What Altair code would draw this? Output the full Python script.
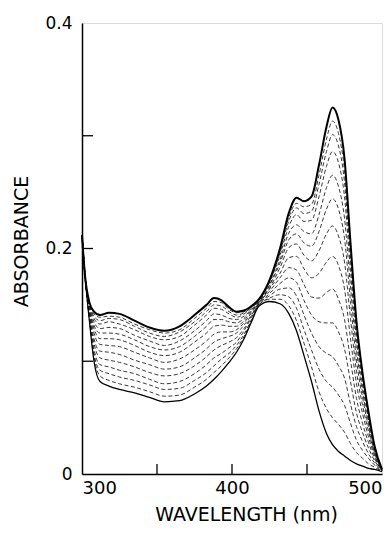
import altair as alt
import pandas as pd

wavelength = [300, 302, 305, 308, 312, 318, 325, 335, 345, 355, 365, 375, 383, 388,
              393, 398, 403, 408, 413, 418, 425, 432, 438, 443, 448, 453, 458, 463,
              467, 471, 475, 479, 483, 487, 491, 495, 500]

# bottom (initial) spectrum, solid
spec_00 = [.212,.176,.135,.100,.082,.078,.075,.072,.068,.064,.065,.071,.078,.084,.091,.099,.108,.120,.135,.149,.153,.151,.142,.127,.105,.082,.056,.036,.026,.020,.016,.012,.009,.007,.005,.004,.002]
# intermediate spectra, dashed
spec_01 = [.212,.176,.136,.104,.087,.083,.080,.077,.073,.069,.070,.077,.084,.090,.096,.103,.111,.122,.136,.150,.155,.155,.149,.136,.116,.095,.073,.058,.050,.044,.037,.027,.019,.014,.009,.006,.002]
spec_02 = [.212,.176,.138,.107,.092,.089,.086,.083,.079,.075,.076,.083,.090,.096,.102,.107,.114,.124,.137,.150,.156,.159,.157,.147,.128,.110,.093,.082,.077,.070,.061,.045,.030,.021,.014,.008,.002]
spec_03 = [.212,.176,.139,.111,.097,.095,.092,.089,.084,.080,.082,.089,.097,.103,.107,.112,.117,.127,.139,.151,.158,.164,.165,.158,.141,.125,.113,.107,.104,.096,.085,.062,.042,.029,.018,.010,.003]
spec_04 = [.212,.176,.141,.116,.103,.101,.099,.095,.090,.087,.089,.096,.104,.110,.114,.117,.121,.129,.140,.151,.160,.169,.174,.170,.154,.141,.135,.134,.134,.126,.111,.082,.054,.037,.023,.012,.003]
spec_05 = [.212,.176,.143,.120,.109,.108,.106,.101,.097,.093,.095,.103,.111,.117,.120,.122,.125,.132,.141,.152,.162,.174,.183,.181,.168,.157,.156,.161,.164,.155,.137,.101,.067,.045,.028,.014,.003]
spec_06 = [.212,.176,.145,.125,.115,.114,.113,.108,.103,.099,.102,.110,.118,.124,.126,.126,.128,.134,.143,.152,.164,.178,.192,.193,.182,.174,.178,.188,.193,.185,.164,.120,.080,.054,.033,.016,.003]
spec_07 = [.212,.176,.146,.129,.120,.120,.119,.114,.108,.105,.108,.117,.125,.131,.132,.131,.131,.136,.144,.153,.165,.183,.201,.204,.194,.189,.198,.213,.220,.211,.188,.138,.091,.061,.038,.018,.003]
spec_08 = [.212,.176,.147,.132,.125,.125,.124,.119,.113,.110,.113,.122,.131,.137,.137,.135,.134,.138,.145,.153,.167,.187,.208,.213,.205,.202,.215,.235,.244,.235,.209,.153,.101,.068,.042,.019,.003]
spec_09 = [.212,.176,.149,.135,.129,.130,.129,.123,.118,.114,.118,.127,.136,.142,.141,.138,.137,.140,.146,.154,.168,.190,.214,.221,.215,.213,.230,.254,.265,.255,.227,.166,.110,.073,.045,.021,.004]
spec_10 = [.212,.176,.150,.138,.133,.135,.133,.128,.122,.119,.122,.132,.141,.147,.146,.142,.139,.142,.147,.154,.170,.194,.220,.230,.224,.225,.246,.273,.286,.276,.246,.180,.119,.079,.049,.022,.004]
spec_11 = [.212,.176,.151,.140,.136,.138,.137,.131,.125,.122,.126,.135,.144,.150,.149,.144,.141,.143,.148,.155,.171,.196,.225,.236,.231,.233,.257,.286,.301,.291,.259,.190,.125,.083,.051,.023,.004]
spec_12 = [.212,.176,.151,.142,.139,.140,.139,.133,.128,.125,.128,.138,.147,.153,.152,.146,.143,.144,.148,.155,.171,.198,.228,.240,.237,.239,.265,.297,.313,.302,.269,.197,.130,.087,.053,.024,.004]
# final spectrum, solid
spec_13 = [.212,.176,.152,.144,.141,.143,.142,.136,.130,.127,.131,.141,.150,.156,.154,.148,.144,.145,.149,.155,.172,.200,.232,.245,.242,.246,.274,.308,.325,.314,.280,.205,.135,.090,.055,.025,.004]

spectra = [spec_00, spec_01, spec_02, spec_03, spec_04, spec_05, spec_06,
           spec_07, spec_08, spec_09, spec_10, spec_11, spec_12, spec_13]

x_ticks = [350, 400, 450]
y_ticks = [0.1, 0.2, 0.3]

rows = []
for i, s in enumerate(spectra):
    assert len(s) == len(wavelength)
    kind = "first" if i == 0 else ("last" if i == len(spectra) - 1 else "mid")
    for w, a in zip(wavelength, s):
        rows.append({"wl": w, "abs": a, "curve": i, "kind": kind})
df = pd.DataFrame(rows)

FONT = "DejaVu Sans"
W, H = 300, 451

xs = alt.Scale(domain=[300, 500], nice=False)
ys = alt.Scale(domain=[0, 0.4], nice=False)

x_enc = alt.X("wl:Q", scale=xs, axis=alt.Axis(
    title="WAVELENGTH (nm)", values=[300, 400, 500], ticks=False, tickSize=0,
    grid=False, labelFlush=True, labelPadding=5,
    labelFontSize=18, labelFont=FONT, labelColor="black",
    domainColor="black", domainWidth=1.5,
    titleFont=FONT, titleFontSize=19, titleFontWeight="normal", titleColor="black",
    titleX=164, titleY=46, titleBaseline="alphabetic"))
y_enc = alt.Y("abs:Q", scale=ys, axis=alt.Axis(
    title="ABSORBANCE", values=[0, 0.2, 0.4], ticks=False, tickSize=0, grid=False,
    labelExpr="datum.value == 0 ? '0' : format(datum.value, '.1f')",
    labelPadding=10, labelFontSize=17, labelFont=FONT, labelColor="black",
    domainColor="black", domainWidth=1.5,
    titleFont=FONT, titleFontSize=19, titleFontWeight="normal", titleColor="black",
    titleX=-55, titleY=218, titleBaseline="alphabetic"))

base = alt.Chart(df)
mid = base.transform_filter("datum.kind == 'mid'").mark_line(
    color="#222", strokeWidth=0.9, strokeDash=[4, 2.5], interpolate="monotone"
).encode(x=x_enc, y=y_enc, detail="curve:N")
first = base.transform_filter("datum.kind == 'first'").mark_line(
    color="black", strokeWidth=1.3, interpolate="monotone"
).encode(x="wl:Q", y="abs:Q")
last = base.transform_filter("datum.kind == 'last'").mark_line(
    color="black", strokeWidth=2.0, interpolate="monotone"
).encode(x="wl:Q", y="abs:Q")

xt = alt.Chart(pd.DataFrame({"t": x_ticks})).mark_rule(color="black", strokeWidth=1.3).encode(
    x=alt.X("t:Q", scale=xs), y=alt.value(H), y2=alt.value(H - 10))
yt = alt.Chart(pd.DataFrame({"t": y_ticks})).mark_rule(color="black", strokeWidth=1.3).encode(
    y=alt.Y("t:Q", scale=ys), x=alt.value(0), x2=alt.value(11))

chart = alt.layer(mid, first, last, xt, yt).properties(
    width=W, height=H,
    autosize=alt.AutoSizeParams(type="none"),
    padding={"left": 74, "top": 15, "right": 2, "bottom": 51},
).configure_view(stroke="black", strokeWidth=1.2).configure(background="white")

chart.save("out.html", embed_options={"renderer": "svg", "actions": False})
